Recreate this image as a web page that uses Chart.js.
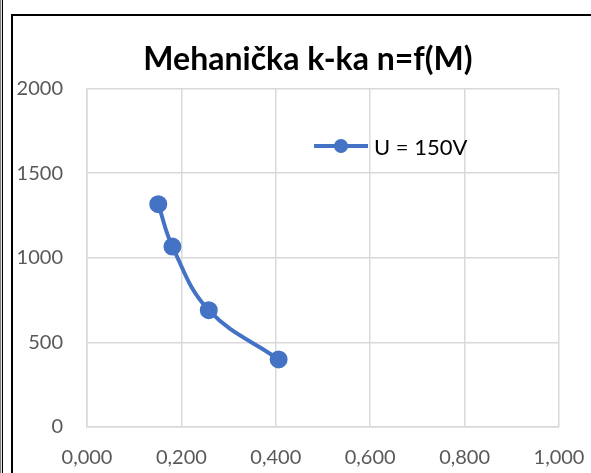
<!DOCTYPE html>
<html>
<head>
<meta charset="utf-8">
<script src="https://cdn.jsdelivr.net/npm/chart.js@4"></script>
<style>
  html, body { margin: 0; padding: 0; background: #fff; }
  body { width: 591px; height: 473px; position: relative; overflow: hidden; }
  #edge { position: absolute; left: 0; top: 0; width: 1px; height: 473px; background: #808080; border-right: 1px solid #e0e0e0; }
  #edge2 { position: absolute; left: 2px; top: 0; width: 1px; height: 473px; background: #000; }
  #box { position: absolute; left: 11px; top: 14px; width: 578px; height: 457px; border-left: 2px solid #000; border-top: 2px solid #000; }
  #legend-container { position: absolute; left: 301px; top: 117px; font-family: Lato, sans-serif; font-size: 22px; color: #000; }
  #legend-container ul { list-style: none; margin: 0; padding: 0; }
  #legend-container li { display: flex; align-items: center; height: 26px; }
  .mark { position: relative; width: 54px; height: 26px; margin-right: 6px; }
  .mark .ln { position: absolute; left: 0; right: 0; top: 11px; height: 4px; }
  .mark .pt { position: absolute; left: 20px; top: 6px; width: 14px; height: 14px; border-radius: 50%; }
</style>
</head>
<body>
<div id="edge"></div>
<div id="edge2"></div>
<div id="box">
  <canvas id="mehChart" width="578" height="457"></canvas>
  <div id="legend-container"></div>
</div>
<script>
const torque = [0.151, 0.181, 0.258, 0.406];
const speed = [1316, 1066, 690, 399];
const xTicks = [0, 0.2, 0.4, 0.6, 0.8, 1.0];
const yTicks = [0, 500, 1000, 1500, 2000];

const tickFont = { family: 'Lato', size: 20 };
const gridColor = '#d9d9d9';

// legend drawn as html, like Excel's legend sitting inside the plot
const htmlLegendPlugin = {
    id: 'htmlLegend',
    afterUpdate(chart, args, options) {
        const box = document.getElementById(options.containerID);
        box.innerHTML = '';
        const ul = document.createElement('ul');
        chart.data.datasets.forEach(ds => {
            const li = document.createElement('li');
            const mark = document.createElement('span');
            mark.className = 'mark';
            const ln = document.createElement('span');
            ln.className = 'ln';
            ln.style.background = ds.borderColor;
            const pt = document.createElement('span');
            pt.className = 'pt';
            pt.style.background = ds.pointBackgroundColor;
            mark.appendChild(ln);
            mark.appendChild(pt);
            const txt = document.createElement('span');
            txt.textContent = ds.label;
            li.appendChild(mark);
            li.appendChild(txt);
            ul.appendChild(li);
        });
        box.appendChild(ul);
    }
};

const data1 = {
    datasets: [{
        label: 'U = 150V',
        data: torque.map((m, i) => ({ x: m, y: speed[i] })),
        borderColor: '#4472c4',
        backgroundColor: '#4472c4',
        pointBackgroundColor: '#4472c4',
        pointBorderColor: '#4472c4',
        borderWidth: 4,
        pointRadius: 7,
        tension: 0.4,
    }]
};

const config1 = {
    type: 'line',
    data: data1,
    options: {
        responsive: false,
        animation: false,
        // negative right padding pushes the title centre a bit right, as in Excel
        layout: { padding: { left: 0, top: 8, right: -12, bottom: 0 } },
        scales: {
            x: {
                type: 'linear',
                min: 0,
                max: 1,
                afterBuildTicks: s => { s.ticks = xTicks.map(v => ({ value: v })); },
                afterFit: s => {
                    s.height = 46;
                    s.paddingLeft = 0;  // gutters are set by the axes below
                    s.paddingRight = 0;
                },
                grid: { color: gridColor, lineWidth: 1.5, drawTicks: false },
                border: { color: gridColor, width: 1.5 },
                ticks: {
                    color: '#595959',
                    font: tickFont,
                    padding: 19,
                    callback: v => v.toFixed(3).replace('.', ','),
                },
            },
            y: {
                min: 0,
                max: 2000,
                afterBuildTicks: s => { s.ticks = yTicks.map(v => ({ value: v })); },
                afterFit: s => { s.width = 74; },
                grid: { color: gridColor, lineWidth: 1.5, drawTicks: false },
                border: { color: gridColor, width: 1.5 },
                ticks: {
                    color: '#595959',
                    font: tickFont,
                    padding: 24,
                    callback: v => String(v),
                },
            },
            // empty right-hand gutter
            yRight: {
                position: 'right',
                min: 0,
                max: 2000,
                afterFit: s => { s.width = 44; },
                grid: { display: false },
                border: { display: false },
                ticks: { display: false },
            }
        },
        plugins: {
            title: {
                display: true,
                text: 'Mehanička k-ka n=f(M)',
                color: '#000',
                font: { family: 'Lato', size: 32, weight: 'bold' },
                padding: { top: 16, bottom: 10 },
            },
            htmlLegend: {
                containerID: 'legend-container',
            },
            legend: { display: false },
            tooltip: { enabled: false },
        },
    },
    plugins: [htmlLegendPlugin],
};

const ctx1 = document.getElementById('mehChart').getContext('2d');
const chart1 = new Chart(ctx1, config1);
</script>
</body>
</html>
